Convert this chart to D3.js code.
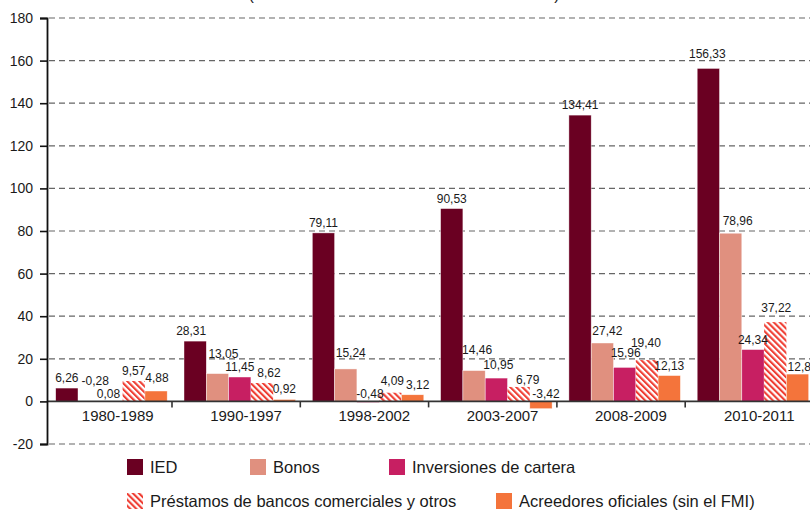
<!DOCTYPE html>
<meta charset="utf-8">
<style>
body { margin: 0; background: #fff; }
svg text { font-family: "Liberation Sans", Arial, sans-serif; fill: #1a1a1a; }
.grid line { stroke: #666; stroke-width: 1.2; stroke-dasharray: 6,4; }
.vlabel { font-size: 12px; text-anchor: middle; }
.cat { font-size: 15px; text-anchor: middle; }
.legend text { font-size: 16.5px; }
</style>
<body>
<script src="https://d3js.org/d3.v7.min.js"></script>
<script>

var categories = ["1980-1989", "1990-1997", "1998-2002", "2003-2007", "2008-2009", "2010-2011"];
var seriesNames = ["IED", "Bonos", "Inversiones de cartera",
  "Préstamos de bancos comerciales y otros", "Acreedores oficiales (sin el FMI)"];
var ied         = [6.26, 28.31, 79.11, 90.53, 134.41, 156.33];
var bonos       = [-0.28, 13.05, 15.24, 14.46, 27.42, 78.96];
var inversiones = [0.08, 11.45, -0.48, 10.95, 15.96, 24.34];
var prestamos   = [9.57, 8.62, 4.09, 6.79, 19.40, 37.22];
var acreedores  = [4.88, 0.92, 3.12, -3.42, 12.13, 12.83];
var yTicks = [-20, 0, 20, 40, 60, 80, 100, 120, 140, 160, 180];
var title = "(En miles de millones de dólares corrientes)";

var seriesValues = [ied, bonos, inversiones, prestamos, acreedores];
var colors = ["#6a0022", "#e0907f", "#c71f62", "url(#hatch)", "#f4743b"];

// manual label nudges (px) where the original moved labels to avoid overlaps
var nudge = {
  "1|0": [6, -10], "2|0": [-3, 3], "4|0": [1, -3],
  "0|1": [-4, 0], "1|1": [6, -10], "3|1": [7, 0],
  "1|2": [5, -6], "2|2": [2, 3], "3|2": [2, -2], "4|2": [5, 0],
  "1|3": [3, -11], "2|3": [2, -3], "3|3": [9, 3], "4|3": [5, 3],
  "1|4": [5, -2], "2|4": [1, -4], "3|4": [-1, -7],
  "0|5": [-1, -4], "1|5": [7, -2], "3|5": [1, -4], "4|5": [5, 3]
};

var width = 810, height = 510;
var axisX = 47;

var svg = d3.select("body").append("svg")
    .attr("width", width)
    .attr("height", height);

var defs = svg.append("defs");
var pat = defs.append("pattern")
    .attr("id", "hatch")
    .attr("patternUnits", "userSpaceOnUse")
    .attr("width", 4.3)
    .attr("height", 4.3)
    .attr("patternTransform", "rotate(-45)");
pat.append("rect").attr("width", 4.3).attr("height", 4.3).attr("fill", "#fff");
pat.append("rect").attr("width", 2.1).attr("height", 4.3).attr("fill", "#ef3e33");

var x = d3.scaleBand()
    .domain(categories)
    .range([43.7, 813.5]);

var xs = d3.scaleBand()
    .domain(d3.range(seriesNames.length))
    .range([12, 123.5]);

var y = d3.scaleLinear()
    .domain([-20, 180])
    .range([444, 18]);

// title (mostly cut off at the top of the picture)
svg.append("text")
    .attr("x", 404)
    .attr("y", 0)
    .attr("text-anchor", "middle")
    .style("font-size", "16px")
    .text(title);

// grid
svg.append("g")
    .attr("class", "grid")
  .selectAll("line")
  .data(yTicks.filter(function(d) { return d !== 0; }))
  .enter().append("line")
    .attr("x1", axisX + 2)
    .attr("x2", width)
    .attr("y1", function(d) { return y(d); })
    .attr("y2", function(d) { return y(d); });

// bars
var rows = [];
categories.forEach(function(c, i) {
  seriesValues.forEach(function(vals, s) {
    rows.push({cat: c, ci: i, s: s, v: vals[i]});
  });
});

svg.append("g")
  .selectAll("rect")
  .data(rows)
  .enter().append("rect")
    .attr("x", function(d) { return x(d.cat) + xs(d.s); })
    .attr("width", xs.bandwidth())
    .attr("y", function(d) { return y(Math.max(0, d.v)); })
    .attr("height", function(d) { return Math.abs(y(d.v) - y(0)); })
    .attr("fill", function(d) { return colors[d.s]; })
    .attr("stroke", function(d) { return d.s === 3 ? "none" : "#fff"; })
    .attr("stroke-width", 0.6)
    .attr("stroke-opacity", 0.7);

// zero line + category ticks
svg.append("line")
    .attr("x1", axisX).attr("x2", width)
    .attr("y1", y(0)).attr("y2", y(0))
    .attr("stroke", "#333").attr("stroke-width", 1.6);

svg.append("g")
  .selectAll("line")
  .data(categories.slice(1))
  .enter().append("line")
    .attr("x1", function(d) { return x(d); })
    .attr("x2", function(d) { return x(d); })
    .attr("y1", y(0))
    .attr("y2", y(0) + 6)
    .attr("stroke", "#333")
    .attr("stroke-width", 1.6);

svg.append("g")
  .selectAll("text")
  .data(categories)
  .enter().append("text")
    .attr("class", "cat")
    .attr("x", function(d) { return x(d) + 74; })
    .attr("y", 421)
    .text(function(d) { return d; });

// y axis
var yAxis = d3.axisLeft(y)
    .tickValues(yTicks)
    .tickSize(7)
    .tickPadding(7)
    .tickFormat(function(d) { return String(d); });

var gY = svg.append("g")
    .attr("transform", "translate(" + axisX + ",0)")
    .call(yAxis);
gY.select(".domain").attr("stroke", "#111").attr("stroke-width", 1.8);
gY.selectAll(".tick line").attr("stroke", "#111").attr("stroke-width", 1.6);
gY.selectAll(".tick text")
    .style("font-size", "14px")
    .style("font-family", "\"Liberation Sans\", Arial, sans-serif")
    .attr("fill", "#1a1a1a");

// value labels
svg.append("g")
  .selectAll("text")
  .data(rows)
  .enter().append("text")
    .attr("class", "vlabel")
    .attr("x", function(d) {
      var n = nudge[d.s + "|" + d.ci] || [0, 0];
      return x(d.cat) + xs(d.s) + xs.bandwidth() / 2 + n[0];
    })
    .attr("y", function(d) {
      var n = nudge[d.s + "|" + d.ci] || [0, 0];
      return y(Math.max(0, d.v)) - 6 + n[1];
    })
    .text(function(d) { return d.v.toFixed(2).replace(".", ","); });

// legend
var legendPos = [[127, 467], [250, 467], [389, 467], [127, 501], [496, 501]];
var legend = svg.append("g")
    .attr("class", "legend")
  .selectAll("g")
  .data(seriesNames)
  .enter().append("g")
    .attr("transform", function(d, i) {
      return "translate(" + legendPos[i][0] + "," + legendPos[i][1] + ")";
    });

legend.append("rect")
    .attr("x", 0)
    .attr("y", -8)
    .attr("width", 16)
    .attr("height", 16)
    .attr("fill", function(d, i) { return colors[i]; });

legend.append("text")
    .attr("x", 23)
    .attr("y", 6)
    .text(function(d) { return d; });

</script>
</body>
